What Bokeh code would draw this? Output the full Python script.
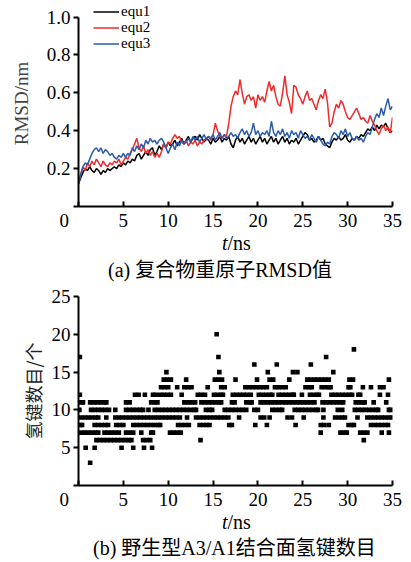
from bokeh.plotting import figure
from bokeh.layouts import column
from bokeh.models import Legend, FixedTicker, Range1d, NumeralTickFormatter, Div
from bokeh.embed import file_html
from bokeh.resources import INLINE

SERIF = "Liberation Serif"
MIXED_CSS = "'Liberation Serif', 'Noto Sans CJK SC', serif"

# ---------------- (a) RMSD of heavy atoms, sampled every 0.25 ns ----------------
step_ns = 0.25
equ1 = [0.12, 0.15, 0.18, 0.20, 0.19, 0.21, 0.19, 0.18, 0.20, 0.19, 0.17, 0.19, 0.18, 0.20, 0.19, 0.20,
        0.21, 0.20, 0.22, 0.21, 0.23, 0.22, 0.24, 0.23, 0.25, 0.24, 0.27, 0.28, 0.25, 0.27, 0.29, 0.27,
        0.30, 0.31, 0.27, 0.29, 0.32, 0.30, 0.33, 0.31, 0.34, 0.32, 0.33, 0.35, 0.32, 0.34, 0.36, 0.33,
        0.35, 0.37, 0.34, 0.36, 0.37, 0.35, 0.38, 0.36, 0.34, 0.36, 0.35, 0.33, 0.36, 0.34, 0.35, 0.37,
        0.34, 0.36, 0.35, 0.37, 0.33, 0.31, 0.35, 0.37, 0.34, 0.36, 0.33, 0.35, 0.37, 0.34, 0.36, 0.33,
        0.35, 0.37, 0.34, 0.36, 0.33, 0.35, 0.37, 0.34, 0.36, 0.33, 0.35, 0.37, 0.34, 0.36, 0.33, 0.35,
        0.34, 0.36, 0.33, 0.35, 0.37, 0.39, 0.38, 0.35, 0.36, 0.34, 0.35, 0.37, 0.35, 0.36, 0.33, 0.32,
        0.31, 0.34, 0.36, 0.35, 0.37, 0.35, 0.36, 0.38, 0.35, 0.34, 0.36, 0.35, 0.37, 0.36, 0.38, 0.37,
        0.39, 0.41, 0.40, 0.42, 0.40, 0.43, 0.41, 0.43, 0.42, 0.44, 0.41, 0.39, 0.40]
equ2 = [0.12, 0.17, 0.21, 0.19, 0.23, 0.21, 0.24, 0.22, 0.25, 0.23, 0.21, 0.24, 0.22, 0.21, 0.23, 0.22,
        0.24, 0.23, 0.25, 0.22, 0.24, 0.26, 0.25, 0.28, 0.30, 0.33, 0.36, 0.31, 0.29, 0.32, 0.28, 0.30,
        0.27, 0.29, 0.26, 0.28, 0.26, 0.29, 0.33, 0.31, 0.34, 0.33, 0.36, 0.38, 0.36, 0.37, 0.34, 0.33,
        0.35, 0.32, 0.34, 0.33, 0.35, 0.32, 0.34, 0.33, 0.35, 0.36, 0.37, 0.35, 0.38, 0.44, 0.40, 0.37,
        0.36, 0.38, 0.37, 0.44, 0.53, 0.58, 0.61, 0.59, 0.67, 0.60, 0.54, 0.58, 0.59, 0.56, 0.58, 0.52,
        0.59, 0.56, 0.58, 0.55, 0.61, 0.66, 0.61, 0.64, 0.58, 0.54, 0.53, 0.60, 0.69, 0.59, 0.55, 0.49,
        0.64, 0.63, 0.59, 0.57, 0.54, 0.58, 0.61, 0.56, 0.57, 0.54, 0.51, 0.56, 0.59, 0.57, 0.62, 0.55,
        0.42, 0.44, 0.50, 0.54, 0.52, 0.56, 0.54, 0.50, 0.47, 0.46, 0.48, 0.50, 0.52, 0.49, 0.46, 0.47,
        0.45, 0.44, 0.48, 0.45, 0.43, 0.40, 0.38, 0.41, 0.43, 0.40, 0.42, 0.39, 0.47]
equ3 = [0.12, 0.17, 0.21, 0.23, 0.22, 0.25, 0.28, 0.30, 0.31, 0.29, 0.31, 0.28, 0.30, 0.29, 0.27, 0.28,
        0.26, 0.25, 0.27, 0.26, 0.28, 0.26, 0.28, 0.27, 0.31, 0.29, 0.32, 0.30, 0.33, 0.31, 0.35, 0.33,
        0.36, 0.34, 0.35, 0.33, 0.35, 0.36, 0.34, 0.31, 0.28, 0.31, 0.33, 0.30, 0.34, 0.32, 0.35, 0.33,
        0.34, 0.36, 0.34, 0.37, 0.35, 0.37, 0.34, 0.36, 0.38, 0.35, 0.37, 0.36, 0.38, 0.35, 0.37, 0.39,
        0.36, 0.38, 0.36, 0.37, 0.39, 0.37, 0.38, 0.36, 0.39, 0.41, 0.38, 0.40, 0.37, 0.39, 0.44, 0.38,
        0.40, 0.37, 0.39, 0.38, 0.40, 0.37, 0.45, 0.39, 0.37, 0.40, 0.38, 0.41, 0.37, 0.39, 0.36, 0.40,
        0.38, 0.39, 0.36, 0.40, 0.38, 0.36, 0.37, 0.35, 0.38, 0.36, 0.34, 0.37, 0.35, 0.33, 0.32, 0.34,
        0.33, 0.37, 0.39, 0.38, 0.36, 0.40, 0.38, 0.41, 0.37, 0.39, 0.36, 0.35, 0.37, 0.35, 0.36, 0.34,
        0.37, 0.39, 0.38, 0.42, 0.46, 0.49, 0.47, 0.52, 0.48, 0.53, 0.57, 0.51, 0.53]
series_names = ["equ1", "equ2", "equ3"]
series_colors = ["#000000", "#f02a2a", "#2b5bab"]

# ---------------- (b) number of interface hydrogen bonds (time in ns per count) ----------------
h3 = [1.3]
h5 = [0.8, 1.8, 4.8, 6.1, 7.3, 8.2]
h6 = [2.0, 2.4, 2.8, 3.2, 3.6, 4.0, 4.4, 4.8, 5.2, 5.6, 5.9, 7.2, 7.6, 8.0, 13.6, 31.8]
h7 = [0.3, 0.7, 1.1, 1.5, 1.9, 2.2, 2.9, 3.3, 3.7, 4.1, 4.5, 5.3, 5.7, 6.1, 7.0, 8.1, 8.3, 10.2, 10.6,
      11.0, 11.4, 27.0, 29.2, 29.6, 29.9, 31.4, 31.8, 32.2, 33.8, 34.6]
h8 = [0.2, 0.4, 1.8, 2.2, 2.6, 3.0, 3.3, 4.2, 4.6, 5.0, 6.1, 6.5, 6.9, 7.3, 7.7, 8.1, 8.5, 8.9, 9.1,
      11.1, 11.5, 11.9, 12.3, 13.5, 13.9, 14.3, 14.6, 16.8, 17.1, 19.7, 21.0, 24.2, 27.0, 27.4, 27.9,
      30.1, 30.5, 30.7, 32.6, 33.0, 33.4, 33.8, 34.2, 34.5]
h9 = [0.3, 0.7, 1.1, 1.5, 1.9, 2.2, 3.1, 4.1, 4.5, 4.9, 5.3, 5.7, 6.1, 6.5, 6.9, 7.3, 7.7, 8.1, 8.5,
      8.9, 9.3, 9.7, 10.1, 10.5, 10.9, 11.3, 12.1, 13.1, 13.5, 13.9, 14.3, 14.7, 15.1, 15.5, 15.9, 16.3,
      16.7, 17.9, 20.3, 20.7, 21.3, 23.3, 23.8, 25.1, 27.3, 28.6, 29.0, 29.4, 29.7, 31.1, 32.2, 32.6,
      33.0, 33.4, 33.8, 34.2, 34.6, 34.9]
h10 = [0.1, 1.4, 1.8, 2.2, 2.6, 3.0, 3.4, 4.1, 5.3, 5.7, 6.1, 6.5, 6.9, 7.2, 7.8, 8.5, 8.9, 9.3, 9.7,
       10.1, 10.5, 10.9, 11.3, 11.7, 12.1, 12.5, 12.9, 13.1, 14.2, 14.6, 14.9, 16.3, 16.7, 17.1, 17.5,
       17.9, 18.3, 18.7, 19.6, 20.0, 21.6, 22.0, 22.4, 22.7, 24.1, 24.5, 24.9, 25.3, 25.7, 26.1, 26.5,
       26.7, 27.3, 28.9, 29.4, 30.8, 31.2, 31.6, 32.0, 32.4, 32.8, 33.2, 33.4, 34.6, 34.8]
h11 = [0.3, 0.5, 1.3, 1.7, 2.1, 2.5, 2.9, 3.1, 5.3, 5.7, 8.1, 8.5, 8.8, 11.8, 12.2, 12.6, 13.0, 13.7,
       14.1, 14.5, 14.9, 15.3, 15.7, 15.9, 17.1, 17.4, 18.7, 19.1, 19.3, 20.3, 20.7, 21.1, 21.5, 21.9,
       22.3, 22.7, 23.1, 23.5, 23.9, 24.3, 24.7, 25.1, 25.5, 25.9, 26.3, 27.2, 27.6, 28.0, 28.4, 28.8,
       29.2, 29.5, 30.9, 31.3, 31.7, 31.9, 32.9, 34.3]
h12 = [0.15, 6.3, 6.7, 7.4, 8.3, 8.6, 9.1, 9.5, 9.9, 10.3, 11.5, 13.3, 13.7, 14.1, 15.1, 15.5, 15.9,
       16.1, 17.2, 17.6, 18.0, 18.4, 18.8, 19.2, 20.1, 20.5, 20.9, 21.3, 21.6, 22.3, 22.7, 23.1, 23.5,
       23.9, 24.0, 24.9, 25.8, 26.2, 26.6, 26.8, 28.2, 28.6, 29.0, 29.4, 29.8, 30.2, 30.5, 31.2, 31.4,
       33.6, 34.5]
h13 = [9.2, 9.6, 10.0, 11.0, 11.8, 12.2, 12.6, 14.4, 15.9, 16.3, 18.6, 19.0, 19.4, 19.8, 20.2, 20.6,
       21.0, 21.9, 22.3, 22.7, 23.1, 25.3, 25.7, 26.0, 27.1, 27.5, 27.9, 28.1, 30.1, 30.3, 31.7, 32.6,
       33.6, 34.0]
h14 = [9.5, 9.9, 10.3, 12.0, 15.2, 15.6, 16.0, 17.5, 19.9, 21.3, 21.7, 23.5, 25.5, 25.9, 26.3, 26.7,
       27.1, 27.5, 27.9, 30.2, 30.6, 34.6]
h15 = [9.8, 15.7, 21.1, 23.9, 24.4, 28.4]
h16 = [19.6, 22.1, 25.9]
h17 = [0.15, 15.6, 27.6]
h18 = [30.7]
h20 = [15.4]
hb_levels = [(3, h3), (5, h5), (6, h6), (7, h7), (8, h8), (9, h9), (10, h10), (11, h11), (12, h12),
             (13, h13), (14, h14), (15, h15), (16, h16), (17, h17), (18, h18), (20, h20)]

x_ticks = [0, 5, 10, 15, 20, 25, 30, 35]
rmsd_ticks = [0, 0.2, 0.4, 0.6, 0.8, 1.0]
hb_ticks = [0, 5, 10, 15, 20, 25]
origin_label = "0" + "\u2007" * 3   # shared origin label, set off to the lower left

caption_a = "(a) 复合物重原子RMSD值"
caption_b = "(b) 野生型A3/A1结合面氢键数目"


def style_axes(p, yticks):
    p.xaxis.ticker = FixedTicker(ticks=x_ticks)
    p.yaxis.ticker = FixedTicker(ticks=yticks)
    p.xaxis.major_label_overrides = {0: origin_label}
    p.yaxis.major_label_overrides = {0: ""}
    for ax in (p.xaxis[0], p.yaxis[0]):
        ax.axis_line_width = 2
        ax.axis_line_color = "black"
        ax.major_tick_line_width = 2
        ax.major_tick_line_color = "black"
        ax.minor_tick_line_color = None
        ax.major_label_text_font = SERIF
        ax.major_label_text_font_size = "19px"
        ax.major_label_text_color = "black"
    p.xaxis.major_tick_in = 5
    p.xaxis.major_tick_out = 0
    p.xaxis.major_label_standoff = 3
    p.yaxis.major_tick_in = 0
    p.yaxis.major_tick_out = 5
    p.yaxis.major_label_standoff = 3
    p.grid.visible = False
    p.outline_line_color = None
    p.background_fill_color = "white"
    p.border_fill_color = "white"


def text_div(html, height, pad_left, pad_top):
    style = (f"font-family: {MIXED_CSS}; font-size: 20px; line-height: 20px; color: black; "
             f"text-align: left; padding-left: {pad_left}px; padding-top: {pad_top}px; "
             f"white-space: nowrap;")
    return Div(text=f'<div style="{style}">{html}</div>', width=411, height=height, margin=0)


# ---------------- figure (a) ----------------
# frame reaches the canvas top so the legend above the 1.0 tick stays visible
p1 = figure(width=411, height=233, x_range=Range1d(0, 35), y_range=Range1d(0, 1.0876),
            output_backend="svg", toolbar_location=None,
            min_border_left=77, min_border_right=19, min_border_top=0, min_border_bottom=22)
style_axes(p1, rmsd_ticks)
p1.yaxis.bounds = (0, 1.0)
p1.yaxis.formatter = NumeralTickFormatter(format="0.0")
p1.yaxis.axis_label = "RMSD/nm"
p1.yaxis.axis_label_text_font = SERIF
p1.yaxis.axis_label_text_font_style = "normal"
p1.yaxis.axis_label_text_font_size = "19px"
p1.yaxis.axis_label_standoff = 12

time_ns = [round(i * step_ns, 2) for i in range(len(equ1))]
renderers = []
for ys, c in zip([equ1, equ2, equ3], series_colors):
    renderers.append(p1.line(time_ns[:len(ys)], ys, line_color=c, line_width=1.5))

for k, (n, r) in enumerate(zip(series_names, renderers)):
    p1.add_layout(Legend(items=[(n, [r])], location=(15, 186 - 16 * k), padding=0, margin=0,
                         spacing=0, label_height=15, glyph_height=15, glyph_width=26, label_standoff=2,
                         background_fill_alpha=0, border_line_color=None,
                         label_text_font=SERIF, label_text_font_size="15px",
                         label_text_color="black"))

# ---------------- figure (b) ----------------
p2 = figure(width=411, height=231, x_range=Range1d(0, 35), y_range=Range1d(0, 25),
            output_backend="svg", toolbar_location=None,
            min_border_left=78, min_border_right=18, min_border_top=15, min_border_bottom=22)
style_axes(p2, hb_ticks)
p2.yaxis.axis_label = "氢键数目/个"
p2.yaxis.axis_label_text_font = "Noto Sans CJK SC"
p2.yaxis.axis_label_text_font_style = "normal"
p2.yaxis.axis_label_text_font_size = "18px"
p2.yaxis.axis_label_text_color = "#222222"
p2.yaxis.axis_label_standoff = 3

hb_time = []
hb_count = []
for n, times in hb_levels:
    hb_time.extend(times)
    hb_count.extend([n] * len(times))
p2.scatter(hb_time, hb_count, marker="square", size=4.6, fill_color="black", line_color=None)

page = column(
    p1,
    text_div("<i>t</i>/ns", 20, 222, 0),
    text_div(caption_a, 28, 108, 7),
    p2,
    text_div("<i>t</i>/ns", 20, 222, 0),
    text_div(caption_b, 30, 93, 6),
)
open("out.html", "w").write(file_html(page, INLINE))
